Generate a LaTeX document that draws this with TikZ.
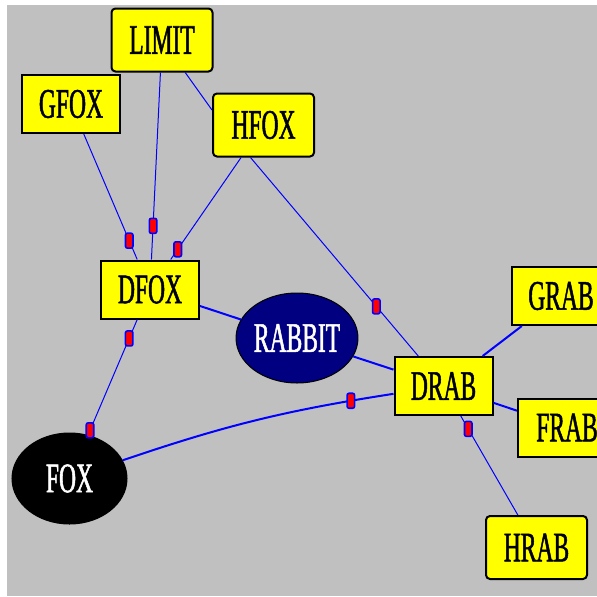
\documentclass[tikz,border=0pt]{standalone}
\usepackage{fontspec}
\newfontfamily\boxfont{Liberation Serif}[FakeStretch=0.56,FakeBold=1.2]
\usetikzlibrary{shapes.geometric,calc}

\definecolor{bggray}{RGB}{192,192,192}
\definecolor{boxyellow}{RGB}{255,255,0}
\definecolor{linkblue}{RGB}{0,0,255}
\definecolor{rabbitnavy}{RGB}{0,0,128}

\begin{document}
\begin{tikzpicture}[x=1pt,y=-1pt,
  boxnode/.style={draw=black, line width=2pt, fill=boxyellow, inner sep=0pt,
    minimum width=98pt, minimum height=58pt, font=\boxfont\fontsize{42}{48}\selectfont},
  roundnode/.style={boxnode, rounded corners=4pt, minimum width=101pt, minimum height=63pt},
  ovalnode/.style={ellipse, draw=black, line width=1pt, inner sep=0pt, text=white,
    minimum width=114pt, minimum height=90pt, font=\boxfont\fontsize{42}{48}\selectfont},
  link/.style={linkblue, line width=1pt},
  thicklink/.style={linkblue, line width=2pt},
  dot/.style={draw=linkblue, line width=1.6pt, fill=red, rounded corners=2pt,
    inner sep=0pt, minimum width=7.5pt, minimum height=15pt}]

% page and gray canvas
\useasboundingbox (0,0) rectangle (597,597);
\clip (0,0) rectangle (597,597);
\fill[white] (0,0) rectangle (597,597);
\fill[bggray] (7,5) rectangle (597,596);

% fox side
\node[roundnode] (LIMIT) at (162,40) {LIMIT};
\node[boxnode] (GFOX) at (71,104) {GFOX};
\node[roundnode] (HFOX) at (263.5,125) {HFOX};
\node[boxnode] (DFOX) at (150,289.5) {DFOX};
\node[ovalnode, fill=black, minimum width=115pt, minimum height=91pt] (FOX) at (69.5,478.5) {FOX};

% rabbit side
\node[ovalnode, fill=rabbitnavy] (RABBIT) at (297,338) {RABBIT};
\node[boxnode] (DRAB) at (443.5,386) {DRAB};
\node[boxnode] (GRAB) at (561,296) {GRAB};
\node[boxnode] (FRAB) at (567,427.5) {FRAB};
\node[roundnode] (HRAB) at (536.5,547.5) {HRAB};

% links into DFOX
\draw[link] (GFOX) -- node[dot, pos=0.85] {} (DFOX);
\draw[link] (LIMIT) -- node[dot, pos=0.82] {} (DFOX);
\draw[link] (LIMIT) -- ($(HFOX.west)+(0,-15)$);
\draw[link] (HFOX) -- node[dot, pos=0.9] {} (DFOX);
\draw[link] (DFOX) -- node[dot, pos=0.164] {} node[dot, pos=0.96] {} (FOX);

% links into DRAB
\draw[link] ($(HFOX.south)+(-13,0)$) -- node[dot, pos=0.75] {} (DRAB);
\draw[thicklink] (DFOX) -- (RABBIT);
\draw[thicklink] (RABBIT) -- (DRAB);
\draw[thicklink] (FOX) to[bend left=5] node[dot, pos=0.86] {} (DRAB);
\draw[thicklink] (DRAB) -- (GRAB);
\draw[thicklink] (DRAB) -- (FRAB);
\draw[link] (DRAB) -- node[dot, pos=0.13] {} (HRAB);

\end{tikzpicture}
\end{document}
